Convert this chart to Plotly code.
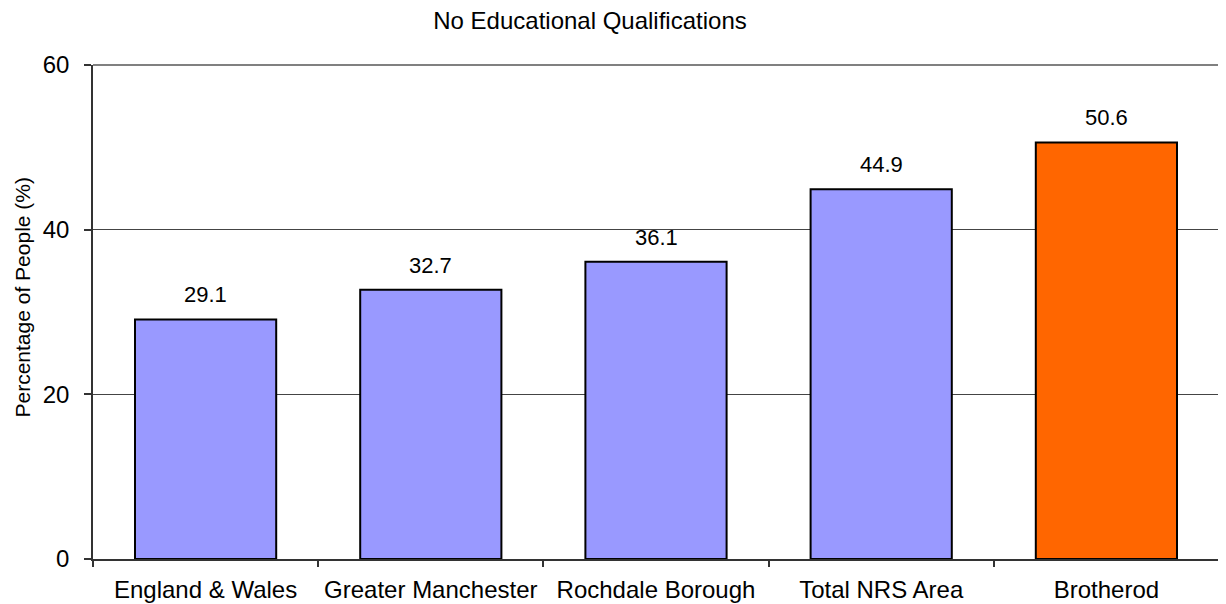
import plotly.graph_objects as go

categories = ["England & Wales", "Greater Manchester", "Rochdale Borough", "Total NRS Area", "Brotherod"]
values = [29.1, 32.7, 36.1, 44.9, 50.6]
colors = ["#9999FF", "#9999FF", "#9999FF", "#9999FF", "#FF6600"]
y_ticks = [0, 20, 40, 60]

FONT = "Liberation Sans, Arial, sans-serif"

# page body adds an 8px offset; compensate in figure size / margins
W, H = 1218, 596
ML, MT, MR, MB = 85, 57, 7, 45

fig = go.Figure()
fig.add_trace(go.Bar(
    x=categories, y=values,
    marker=dict(color=colors, line=dict(color="black", width=2)),
    hoverinfo="x+y",
))
for c, v in zip(categories, values):
    fig.add_annotation(x=c, y=v, text=f"{v:.1f}", showarrow=False,
                       yanchor="bottom", yshift=10,
                       font=dict(family=FONT, size=22, color="black"))

fig.add_annotation(xref="paper", yref="paper",
                   x=(14 - ML) / (W - ML - MR), y=(551 - 289.5) / (H - MT - MB),
                   xanchor="center", yanchor="middle", textangle=-90,
                   text="Percentage of People (%)", showarrow=False,
                   font=dict(family=FONT, size=21, color="black"))

fig.update_layout(
    width=W, height=H,
    margin=dict(l=ML, r=MR, t=MT, b=MB, autoexpand=False),
    paper_bgcolor="white", plot_bgcolor="white",
    bargap=0.373,
    showlegend=False,
    font=dict(family=FONT, color="black"),
    title=dict(text="No Educational Qualifications", xref="container", x=582 / W, xanchor="center",
               yref="container", y=1 - 13 / H, yanchor="middle",
               font=dict(family=FONT, size=24, color="black")),
    xaxis=dict(
        type="category", tickson="boundaries", ticks="outside", ticklen=6,
        tickcolor="#333333", tickwidth=1.5,
        showline=True, linecolor="#333333", linewidth=1.5,
        showgrid=False, tickfont=dict(family=FONT, size=24, color="black"),
        ticklabelstandoff=8, automargin=False,
    ),
    yaxis=dict(
        range=[0, 60], tickvals=y_ticks, ticks="outside", ticklen=7,
        tickcolor="#333333", tickwidth=1.5, showline=True, linecolor="#333333", linewidth=1.5,
        showgrid=True, gridcolor="#444444", gridwidth=1,
        tickfont=dict(family=FONT, size=24, color="black"),
        ticklabelstandoff=10, automargin=False,
        zeroline=False,
    ),
)
# gray top/right frame
fig.add_shape(type="line", xref="paper", yref="paper", x0=0, x1=1, y0=1, y1=1,
              line=dict(color="#808080", width=2), layer="above")
fig.add_shape(type="line", xref="paper", yref="paper", x0=1, x1=1, y0=0, y1=1,
              line=dict(color="#808080", width=2), layer="above")

fig.write_html("out.html")
